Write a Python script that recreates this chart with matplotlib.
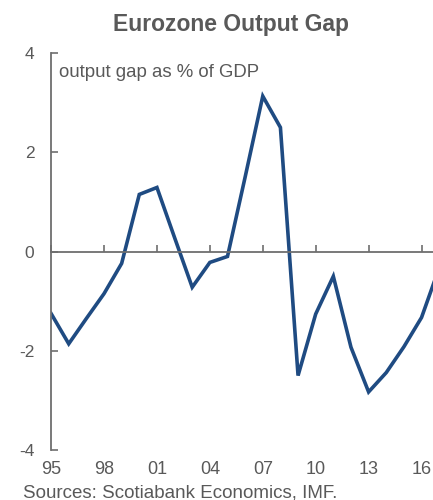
import matplotlib
matplotlib.use('Agg')
import matplotlib.pyplot as plt

# output gap as % of GDP, 1995-2017
years = list(range(1995, 2018))
gap = [-1.25, -1.86, -1.35, -0.85, -0.24, 1.15, 1.29, 0.28, -0.72, -0.22,
       -0.10, 1.50, 3.13, 2.50, -2.50, -1.26, -0.50, -1.93, -2.83, -2.44,
       -1.92, -1.33, -0.33]
tick_years = [1995, 1998, 2001, 2004, 2007, 2010, 2013, 2016]
tick_labels = ['95', '98', '01', '04', '07', '10', '13', '16']

plt.rcParams['font.family'] = ['Liberation Sans', 'DejaVu Sans']
plt.rcParams['axes.unicode_minus'] = False
grey = '#595959'
axis_grey = '#6e6e6e'

fig = plt.figure(figsize=(4.33, 5), dpi=100)
ax = fig.add_axes([0.118, 0.10, 0.882, 0.794])

ax.plot(years, gap, color='#1f4b82', lw=2.6, solid_joinstyle='miter', clip_on=True)

ax.set_xlim(1995, 2016.65)
ax.set_ylim(-4, 4)
ax.set_yticks([-4, -2, 0, 2, 4])

for s in ['top', 'right']:
    ax.spines[s].set_visible(False)
ax.spines['left'].set_color(axis_grey)
ax.spines['left'].set_linewidth(1.3)
ax.spines['bottom'].set_position(('data', 0))
ax.spines['bottom'].set_color(axis_grey)
ax.spines['bottom'].set_linewidth(1.3)

ax.set_xticks(tick_years)
ax.tick_params(axis='x', direction='in', length=5, width=1.2, color=axis_grey,
               labelbottom=False)
ax.tick_params(axis='y', direction='in', length=5, width=1.2, color=axis_grey,
               labelsize=12.5, labelcolor=grey, pad=12)

sec = ax.secondary_xaxis(0)
sec.set_xticks(tick_years)
sec.set_xticklabels(tick_labels)
sec.spines['bottom'].set_visible(False)
sec.tick_params(length=0, labelsize=13, labelcolor=grey, pad=8)

ax.text(0.021, 0.952, 'output gap as % of GDP', transform=ax.transAxes,
        fontsize=13.4, color=grey, va='center', ha='left')

fig.text(0.533, 0.952, 'Eurozone Output Gap', ha='center', va='center',
         fontsize=16.5, fontweight='bold', color=grey)
fig.text(0.053, 0.006, 'Sources: Scotiabank Economics, IMF.', ha='left',
         va='baseline', fontsize=13.5, color=grey)

fig.savefig('out.png', dpi=100)
